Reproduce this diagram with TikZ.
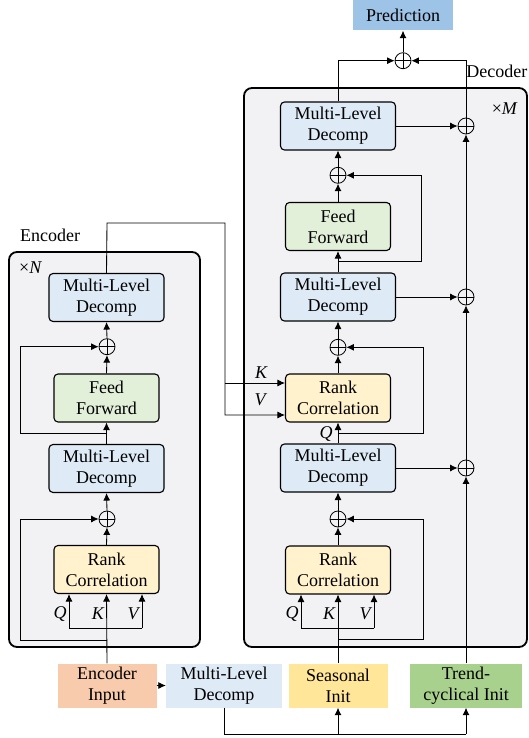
\documentclass[tikz,border=0pt]{standalone}
\usepackage{fontspec}
\setmainfont{LiberationSerif}[Extension=.ttf, UprightFont=*-Regular, ItalicFont=*-Italic, BoldFont=*-Bold, BoldItalicFont=*-BoldItalic]
\usetikzlibrary{arrows.meta}
\definecolor{mldc}{HTML}{DEEBF7}
\definecolor{ffc}{HTML}{E2F0D9}
\definecolor{rcc}{HTML}{FFF2CC}
\definecolor{predc}{HTML}{9DC3E6}
\definecolor{panelc}{HTML}{F2F2F4}
\definecolor{eic}{HTML}{F8CBAD}
\definecolor{sic}{HTML}{FFE699}
\definecolor{tic}{HTML}{A9D18E}
\tikzset{
 txt/.style={font=\rmfamily\fontsize{18}{21}\selectfont},
 blk/.style={txt, draw, line width=1.1pt, rounded corners=4pt, align=center, inner sep=0pt},
 mld/.style={blk, fill=mldc, minimum width=115pt, minimum height=48pt},
 ffb/.style={blk, fill=ffc, minimum width=105pt, minimum height=48pt},
 rcb/.style={blk, fill=rcc, minimum width=105pt, minimum height=48pt},
 inb/.style={txt, align=center, inner sep=0pt, minimum height=44pt},
 addc/.style={circle, draw, line width=0.8pt, minimum size=16pt, inner sep=0pt,
   path picture={\draw[line width=0.8pt] (path picture bounding box.north) -- (path picture bounding box.south)
   (path picture bounding box.west) -- (path picture bounding box.east);}},
 conn/.style={line width=0.85pt, -{Latex[length=7.5pt,width=7pt]}},
 ln/.style={line width=0.85pt},
 lbl/.style={font=\rmfamily\fontsize{18}{21}\selectfont\itshape, inner sep=0pt},
 panel/.style={draw, line width=1.8pt, rounded corners=8pt, fill=panelc},
}
\begin{document}
\begin{tikzpicture}[x=1pt,y=-1pt]
\useasboundingbox (0,0) rectangle (528,738);
% panels
\draw[panel] (9,252) rectangle (200,647);
\draw[panel] (244,88) rectangle (527,647);
\node[txt, anchor=west, inner sep=0pt] (enclbl) at (20,235) {Encoder};
\node[txt, anchor=east, inner sep=0pt] (declbl) at (527.5,71) {Decoder};
\node[txt, anchor=west, inner sep=0pt] (xn) at (19,268) {×\textit{N}};
\node[txt, anchor=east, inner sep=0pt] (xm) at (518,109) {×\textit{M}};
% encoder nodes
\node[mld] (emldA) at (106.5,297.5) {Multi-Level\\Decomp};
\node[addc] (eplusA) at (107,346.7) {};
\node[ffb] (eff) at (106.5,398) {Feed\\Forward};
\node[mld] (emldB) at (106.5,468.5) {Multi-Level\\Decomp};
\node[addc] (eplusB) at (107,519) {};
\node[rcb] (erc) at (106.5,569.5) {Rank\\Correlation};
% decoder nodes
\node[mld] (dmldA) at (338,126) {Multi-Level\\Decomp};
\node[addc] (dplusA) at (338,175.3) {};
\node[ffb] (dff) at (338,226.5) {Feed\\Forward};
\node[mld] (dmldB) at (338,297) {Multi-Level\\Decomp};
\node[addc] (dplusB) at (338,347.3) {};
\node[rcb] (drcA) at (338,398) {Rank\\Correlation};
\node[mld] (dmldC) at (338,468) {Multi-Level\\Decomp};
\node[addc] (dplusC) at (338,519) {};
\node[rcb] (drcB) at (338,570) {Rank\\Correlation};
\node[addc] (tpA) at (466,126) {};
\node[addc] (tpB) at (466,297) {};
\node[addc] (tpC) at (466,468) {};
\node[addc] (pp) at (403,60.7) {};
\node[txt, fill=predc, minimum width=100pt, minimum height=31pt, inner sep=0pt] (pred) at (403,15) {Prediction};
% bottom inputs
\node[inb, fill=eic, minimum width=99pt] (ei) at (107,685.5) {Encoder\\Input};
\node[inb, fill=mldc, minimum width=116pt] (mldI) at (224,685.5) {Multi-Level\\Decomp};
\node[inb, fill=sic, minimum width=99pt] (si) at (338,685.5) {Seasonal\\Init};
\node[inb, fill=tic, minimum width=112pt] (ti) at (466,685.5) {Trend-\\cyclical Init};
% encoder connections
\draw[conn] (ei.north) -- (erc.south);
\coordinate (eQ) at (69,628);
\coordinate (eV) at (142,628);
\draw[ln] (eQ) -- (eV);
\draw[conn] (eQ) -- (eQ |- erc.south);
\draw[conn] (eV) -- (eV |- erc.south);
\draw[conn] (erc.north) -- (eplusB.south);
\draw[conn] (eplusB.north) -- (emldB.south);
\draw[conn] (emldB.north) -- (eff.south);
\draw[conn] (eff.north) -- (eplusA.south);
\draw[conn] (eplusA.north) -- (emldA.south);
\coordinate (eskB) at (107,640);
\draw[conn] (eskB) -- (20,640) |- (eplusB.west);
\coordinate (eskA) at (107,433);
\draw[conn] (eskA) -- (20,433) |- (eplusA.west);
\node[lbl] (lq1) at (60,614) {Q};
\node[lbl] (lk1) at (98,614) {K};
\node[lbl] (lv1) at (133,614) {V};
% encoder to decoder
\coordinate (kv1) at (225,383);
\coordinate (kv2) at (225,415);
\draw[conn] (emldA.north) -- (107,223) -- (225,223) -- (kv2) -- (kv2 -| drcA.west);
\draw[conn] (kv1) -- (kv1 -| drcA.west);
\node[lbl] (lk2) at (261,373) {K};
\node[lbl] (lv2) at (260,400) {V};
% decoder connections
\draw[conn] (si.north) -- (drcB.south);
\coordinate (dQ) at (301,628);
\coordinate (dV) at (374,628);
\draw[ln] (dQ) -- (dV);
\draw[conn] (dQ) -- (dQ |- drcB.south);
\draw[conn] (dV) -- (dV |- drcB.south);
\node[lbl] (lq3) at (292,614) {Q};
\node[lbl] (lk3) at (329,614) {K};
\node[lbl] (lv3) at (365,614) {V};
\coordinate (dsk) at (338,639);
\draw[conn] (dsk) -- (423.3,639) |- (dplusC.east);
\draw[conn] (drcB.north) -- (dplusC.south);
\draw[conn] (dplusC.north) -- (dmldC.south);
\draw[conn] (dmldC.north) -- (drcA.south);
\coordinate (dq) at (338,433);
\draw[conn] (dq) -- (423.3,433) |- (dplusB.east);
\node[lbl] (lq2) at (326,434) {Q};
\draw[conn] (drcA.north) -- (dplusB.south);
\draw[conn] (dplusB.north) -- (dmldB.south);
\draw[conn] (dmldB.north) -- (dff.south);
\coordinate (dffb) at (338,261.7);
\draw[conn] (dffb) -- (421.7,261.7) |- (dplusA.east);
\draw[conn] (dff.north) -- (dplusA.south);
\draw[conn] (dplusA.north) -- (dmldA.south);
% trend path
\draw[conn] (dmldA.east |- tpA) -- (tpA.west);
\draw[conn] (dmldB.east) -- (tpB.west);
\draw[conn] (dmldC.east) -- (tpC.west);
\draw[conn] (ti.north) -- (tpC.south);
\draw[conn] (tpC.north) -- (tpB.south);
\draw[conn] (tpB.north) -- (tpA.south);
\draw[conn] (tpA.north) |- (pp.east);
\draw[conn] (dmldA.north) |- (pp.west);
\draw[conn] (pp.north) -- (pred.south);
% bottom
\draw[conn] (ei.east) -- (mldI.west);
\coordinate (bl) at (224,734);
\draw[ln] (mldI.south) -- (bl) -- (bl -| ti.south);
\draw[conn] (bl -| si.south) -- (si.south);
\draw[conn] (bl -| ti.south) -- (ti.south);
\end{tikzpicture}
\end{document}
